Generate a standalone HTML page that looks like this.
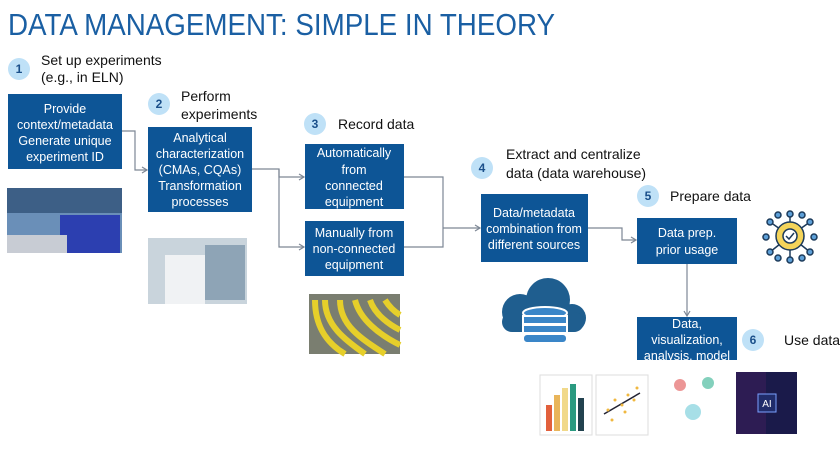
<!DOCTYPE html>
<html><head><meta charset="utf-8"><style>
html,body{margin:0;padding:0;background:#fff;width:840px;height:454px;overflow:hidden}
svg{display:block}
.t{font-family:"Liberation Sans",sans-serif;fill:#fff;font-size:12.5px;text-anchor:middle}
.l{font-family:"Liberation Sans",sans-serif;fill:#111;font-size:14px}
.n{font-family:"Liberation Sans",sans-serif;fill:#1a4f8a;font-size:12px;font-weight:bold;text-anchor:middle}
.c{fill:none;stroke:#7d8795;stroke-width:1.2}
</style></head><body>
<svg width="840" height="454" viewBox="0 0 840 454" xmlns="http://www.w3.org/2000/svg">
<text x="8" y="35" font-family="Liberation Sans,sans-serif" font-size="31" fill="#1a5fa3" textLength="547" lengthAdjust="spacingAndGlyphs">DATA MANAGEMENT: SIMPLE IN THEORY</text>

<!-- connectors -->
<polyline class="c" points="121,131 135,131 135,170 147,170"/>
<polyline class="c" points="142,167 147,170 142,173"/>
<polyline class="c" points="252,169 279,169 279,177 304,177"/>
<polyline class="c" points="279,169 279,247 304,247"/>
<polyline class="c" points="299,174 304,177 299,180"/>
<polyline class="c" points="299,244 304,247 299,250"/>
<polyline class="c" points="404,177 443,177 443,247 404,247"/>
<polyline class="c" points="443,228 480,228"/>
<polyline class="c" points="475,225 480,228 475,231"/>
<polyline class="c" points="588,228 622,228 622,240 636,240"/>
<polyline class="c" points="631,237 636,240 631,243"/>
<polyline class="c" points="687,263 687,316"/>
<polyline class="c" points="684,311 687,316 690,311"/>

<!-- boxes -->
<g fill="#0d5596">
<rect x="8" y="94" width="114" height="75"/>
<rect x="148" y="127" width="104" height="85"/>
<rect x="305" y="144" width="99" height="65"/>
<rect x="305" y="221" width="99" height="55"/>
<rect x="481" y="194" width="107" height="68"/>
<rect x="637" y="218" width="100" height="46"/>
<rect x="637" y="317" width="100" height="43"/>
</g>
<text class="t"><tspan x="65" y="113">Provide</tspan><tspan x="65" y="129">context/metadata</tspan><tspan x="65" y="145">Generate unique</tspan><tspan x="65" y="161">experiment ID</tspan></text>
<text class="t"><tspan x="200" y="142">Analytical</tspan><tspan x="200" y="158">characterization</tspan><tspan x="200" y="174">(CMAs, CQAs)</tspan><tspan x="200" y="190">Transformation</tspan><tspan x="200" y="206">processes</tspan></text>
<text class="t"><tspan x="354" y="157">Automatically</tspan><tspan x="354" y="174">from</tspan><tspan x="354" y="190">connected</tspan><tspan x="354" y="206">equipment</tspan></text>
<text class="t"><tspan x="354" y="237">Manually from</tspan><tspan x="354" y="253">non-connected</tspan><tspan x="354" y="269">equipment</tspan></text>
<text class="t"><tspan x="534" y="217">Data/metadata</tspan><tspan x="534" y="233">combination from</tspan><tspan x="534" y="249">different sources</tspan></text>
<text class="t"><tspan x="687" y="237">Data prep.</tspan><tspan x="687" y="254">prior usage</tspan></text>
<text class="t"><tspan x="687" y="328">Data,</tspan><tspan x="687" y="344">visualization,</tspan><tspan x="687" y="360">analysis, model</tspan></text>
<rect x="630" y="360" width="120" height="10" fill="#fff"/>

<!-- circles -->
<g fill="#bfe1f7">
<circle cx="19" cy="69" r="11"/><circle cx="159" cy="104" r="11"/><circle cx="315" cy="124" r="11"/>
<circle cx="482" cy="168" r="11"/><circle cx="648" cy="196" r="11"/><circle cx="753" cy="340" r="11"/>
</g>
<text class="n"><tspan x="19" y="73">1</tspan><tspan x="159" y="108">2</tspan><tspan x="315" y="128">3</tspan><tspan x="482" y="172">4</tspan><tspan x="648" y="200">5</tspan><tspan x="753" y="344">6</tspan></text>

<text class="l"><tspan x="41" y="65">Set up experiments</tspan><tspan x="41" y="82">(e.g., in ELN)</tspan></text>
<text class="l"><tspan x="181" y="101">Perform</tspan><tspan x="181" y="119">experiments</tspan></text>
<text class="l" x="338" y="129">Record data</text>
<text class="l"><tspan x="506" y="159">Extract and centralize</tspan><tspan x="506" y="178">data (data warehouse)</tspan></text>
<text class="l" x="670" y="201">Prepare data</text>
<text class="l" x="784" y="345">Use data</text>

<!-- photos -->
<rect x="7" y="188" width="115" height="65" fill="#6a8fb8"/>
<rect x="7" y="188" width="115" height="25" fill="#3d5f86"/>
<rect x="60" y="215" width="60" height="38" fill="#2c3fb0"/>
<rect x="7" y="235" width="60" height="18" fill="#c8ccd4"/>
<rect x="148" y="238" width="99" height="66" fill="#c9d4dc"/>
<rect x="165" y="255" width="40" height="49" fill="#f0f2f4"/>
<rect x="205" y="245" width="40" height="55" fill="#8ea4b6"/>
<rect x="309" y="294" width="91" height="60" fill="#7a7e70"/>
<path d="M315 300 C315 330 330 345 345 354 M325 300 C325 325 345 340 365 354 M340 300 C340 325 360 338 385 354 M355 300 C360 320 380 335 400 345 M370 300 C375 315 390 325 400 330 M385 300 C390 308 395 312 400 315" stroke="#e6cf2a" stroke-width="6" fill="none"/>

<!-- cloud db -->
<g fill="#1f5e8f">
<circle cx="520" cy="312" r="18"/><circle cx="548" cy="300" r="22"/><circle cx="572" cy="318" r="14"/>
<rect x="502" y="312" width="82" height="20" rx="10"/>
</g>
<g fill="#3a86c8" stroke="#fff" stroke-width="2">
<ellipse cx="545" cy="313" rx="22" ry="6"/>
<rect x="523" y="316" width="44" height="8"/><rect x="523" y="325" width="44" height="8"/><rect x="523" y="334" width="44" height="9" rx="4"/>
</g>

<!-- gear -->
<g stroke="#1c3a5a" stroke-width="1.5" fill="#5ea0d8">
<line x1="790" y1="236" x2="770" y2="222"/><line x1="790" y1="236" x2="810" y2="222"/><line x1="790" y1="236" x2="770" y2="252"/><line x1="790" y1="236" x2="810" y2="252"/><line x1="790" y1="236" x2="790" y2="214"/><line x1="790" y1="236" x2="790" y2="260"/>
<circle cx="770" cy="222" r="3"/><circle cx="810" cy="222" r="3"/><circle cx="770" cy="252" r="3"/><circle cx="810" cy="252" r="3"/><circle cx="790" cy="214" r="3"/><circle cx="790" cy="260" r="3"/><circle cx="778" cy="215" r="3"/><circle cx="802" cy="215" r="3"/><circle cx="778" cy="258" r="3"/><circle cx="802" cy="258" r="3"/><circle cx="766" cy="237" r="3"/><circle cx="814" cy="237" r="3"/>
<circle cx="790" cy="236" r="14" fill="#f4d45a"/><circle cx="790" cy="236" r="7" fill="#fff"/>
</g>
<polyline points="786,236 789,239 794,233" stroke="#1c3a5a" stroke-width="1.5" fill="none"/>

<!-- charts -->
<rect x="540" y="375" width="52" height="60" fill="#fff" stroke="#ddd"/>
<rect x="546" y="405" width="6" height="26" fill="#e2603c"/><rect x="554" y="395" width="6" height="36" fill="#e9b55a"/><rect x="562" y="388" width="6" height="43" fill="#f1d98a"/><rect x="570" y="384" width="6" height="47" fill="#2a9a80"/><rect x="578" y="398" width="6" height="33" fill="#22424f"/>
<rect x="596" y="375" width="52" height="60" fill="#fff" stroke="#ddd"/>
<line x1="604" y1="414" x2="640" y2="393" stroke="#223" stroke-width="1.5"/>
<g fill="#f0b840"><circle cx="608" cy="410" r="1.5"/><circle cx="615" cy="400" r="1.5"/><circle cx="622" cy="405" r="1.5"/><circle cx="628" cy="395" r="1.5"/><circle cx="634" cy="400" r="1.5"/><circle cx="612" cy="420" r="1.5"/><circle cx="625" cy="412" r="1.5"/><circle cx="637" cy="388" r="1.5"/></g>
<rect x="665" y="372" width="57" height="66" fill="#fff"/>
<g fill="#e05050"><circle cx="680" cy="385" r="6" opacity=".6"/></g>
<g fill="#30b090"><circle cx="708" cy="383" r="6" opacity=".6"/></g>
<g fill="#50c0d0"><circle cx="693" cy="412" r="8" opacity=".5"/></g>
<rect x="736" y="372" width="61" height="62" fill="#1a1a4a"/>
<rect x="736" y="372" width="30" height="62" fill="#3a1e5a" opacity=".6"/>
<rect x="758" y="394" width="18" height="18" fill="#202c6a" stroke="#7aa0ff"/>
<text x="767" y="407" font-family="Liberation Sans,sans-serif" font-size="10" fill="#fff" text-anchor="middle">AI</text>
</svg>
</body></html>
